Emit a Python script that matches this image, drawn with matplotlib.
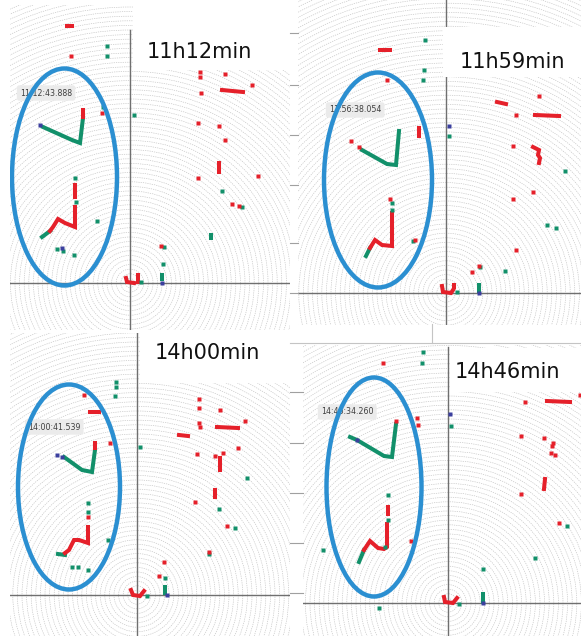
import numpy as np
import matplotlib
matplotlib.use("Agg")
import matplotlib.pyplot as plt
from matplotlib.patches import Ellipse, Circle, Rectangle
from matplotlib.lines import Line2D

W, H = 581, 636
RED = "#e5202a"
GREEN = "#12906a"
BLUE = "#3b3f9e"
RING = "#2b8fd1"

titles = ["11h12min", "11h59min", "14h00min", "14h46min"]
stamps = ["11:12:43.888", "11:56:38.054", "14:00:41.539", "14:46:34.260"]

# ---- data (units: sensor grid units, origin = sensor) ----
# Panel 1 : 11h12min
p1_red_pts = [(-59, 227), (70, 211), (70, 206), (95, 209), (122, 198), (71, 190),
              (-28, 170), (68, 160), (89, 157), (95, 143), (68, 105), (128, 107),
              (102, 79), (109, 77), (31, 37)]
p1_green_pts = [(-23, 237), (-23, 227), (4, 168), (-27, 176), (92, 92), (112, 76),
                (34, 36), (33, 19), (11, 1), (-33, 62), (-73, 34), (-67, 32),
                (-56, 28), (-55, 105), (-54, 81)]
p1_blue_pts = [(32, 0), (-90, 158), (-68, 35)]
p1_red_lines = [[(-63, 257), (-58, 257)], [(92, 193), (113, 191)], [(89, 120), (89, 111)],
                [(-4, 5), (-3, 1), (4, 0)], [(8, 8), (8, 1)],
                [(-47, 166), (-47, 173)], [(-55, 98), (-55, 86)],
                [(-55, 76), (-55, 56), (-65, 60), (-72, 64), (-77, 56), (-80, 52)]]
p1_green_lines = [[(81, 48), (81, 45)], [(32, 8), (32, 4)],
                  [(-87, 156), (-58, 143), (-50, 140), (-47, 165)],
                  [(-80, 52), (-88, 46)]]

# Panel 2 : 11h59min
p2_red_pts = [(-59, 213), (93, 197), (70, 178), (67, 147), (87, 101), (67, 94),
              (70, 43), (26, 21), (33, 27), (-95, 152), (-87, 146), (-56, 94), (-31, 53)]
p2_green_pts = [(-21, 253), (-22, 223), (-23, 213), (3, 157), (119, 122), (101, 68),
                (110, 65), (59, 22), (34, 26), (11, 1), (-54, 90), (-54, 83), (-33, 52)]
p2_blue_pts = [(3, 167), (33, 0)]
p2_red_lines = [[(-66, 243), (-56, 243)], [(-27, 165), (-27, 157)], [(51, 191), (60, 189)],
                [(89, 178), (113, 177)], [(87, 146), (93, 143), (92, 138), (94, 135), (93, 130)],
                [(-4, 7), (-3, 1), (5, 0), (7, 3)], [(8, 8), (8, 6)],
                [(-54, 80), (-54, 47), (-64, 48), (-71, 53), (-76, 45)]]
p2_green_lines = [[(33, 8), (33, 2)],
                  [(-84, 143), (-59, 129), (-50, 128), (-47, 162)],
                  [(-76, 45), (-80, 37)]]

# Panel 3 : 14h00min
p3_red_pts = [(-53, 200), (-27, 152), (62, 196), (62, 187), (83, 185), (62, 172),
              (63, 168), (108, 174), (60, 141), (78, 139), (86, 142), (101, 147),
              (58, 93), (90, 69), (72, 43), (27, 33), (22, 19), (-49, 78)]
p3_green_pts = [(-21, 213), (-21, 208), (-22, 199), (3, 148), (110, 117), (82, 86),
                (98, 67), (28, 17), (-49, 92), (-49, 83), (-65, 28), (-59, 28),
                (-49, 25), (-29, 55), (72, 41), (10, -1)]
p3_blue_pts = [(30, 0), (-80, 140), (-75, 138)]
p3_red_lines = [[(-47, 183), (-38, 183)], [(80, 168), (101, 167)], [(42, 160), (51, 159)],
                [(83, 137), (83, 125)], [(78, 105), (78, 98)],
                [(-6, 5), (-4, 0), (3, -1), (7, 4)], [(-42, 152), (-42, 147)],
                [(-49, 68), (-49, 52), (-58, 55), (-63, 55), (-68, 45), (-72, 42)]]
p3_green_lines = [[(28, 8), (28, 2)],
                  [(-73, 138), (-55, 125), (-45, 123), (-42, 145)],
                  [(-72, 40), (-79, 41)]]

# Panel 4 : 14h46min
p4_red_pts = [(-65, 240), (-31, 185), (-30, 178), (77, 201), (132, 208), (73, 167),
              (96, 165), (105, 160), (104, 157), (103, 150), (107, 148), (73, 109),
              (111, 80), (-37, 62), (-52, 182)]
p4_green_pts = [(-25, 251), (-26, 240), (3, 177), (119, 77), (87, 45), (35, 34),
                (11, -1), (-125, 53), (-69, -5), (-60, 108), (-60, 83), (-63, 56)]
p4_blue_pts = [(2, 189), (35, 0), (-91, 163)]
p4_red_lines = [[(99, 202), (122, 201)], [(97, 124), (96, 114)],
                [(-4, 6), (-3, 1), (5, 0), (9, 5)], [(-60, 96), (-60, 89)],
                [(-61, 79), (-61, 56), (-64, 54), (-70, 55), (-78, 62), (-84, 53)]]
p4_green_lines = [[(35, 9), (35, 1)],
                  [(-98, 166), (-91, 163), (-64, 147), (-56, 146), (-52, 179)],
                  [(-84, 53), (-89, 41)]]

# ---- layout (figure pixels) ----
layouts = [
    dict(rect=(10, 5, 290, 330), origin=(130, 283), vtop=30, white=(133, 0, 290, 70),
         title=(147, 52), stamp=(20, 93), ell=(64.5, 177, 105, 217)),
    dict(rect=(298, 0, 581, 325), origin=(446, 293), vtop=0, white=(443, 27, 581, 77),
         title=(460, 62), stamp=(329, 110), ell=(378, 180, 108, 215)),
    dict(rect=(10, 333, 290, 636), origin=(137, 595), vtop=333, white=(140, 333, 290, 383),
         title=(155, 353), stamp=(28, 427), ell=(69, 487, 102, 205)),
    dict(rect=(303, 345, 581, 636), origin=(448, 603), vtop=347, white=(450, 348, 581, 392),
         title=(455, 372), stamp=(321, 412), ell=(374, 487, 95, 219)),
]
panel_data = [
    (p1_red_pts, p1_green_pts, p1_blue_pts, p1_red_lines, p1_green_lines),
    (p2_red_pts, p2_green_pts, p2_blue_pts, p2_red_lines, p2_green_lines),
    (p3_red_pts, p3_green_pts, p3_blue_pts, p3_red_lines, p3_green_lines),
    (p4_red_pts, p4_green_pts, p4_blue_pts, p4_red_lines, p4_green_lines),
]

fig = plt.figure(figsize=(W / 100, H / 100), dpi=100)
fig.patch.set_facecolor("white")

MS = 3.2
LW = 2.9


def draw_panel(lay, data, title, stamp):
    x0, y0, x1, y1 = lay["rect"]
    ox, oy = lay["origin"]
    ax = fig.add_axes([x0 / W, 1 - y1 / H, (x1 - x0) / W, (y1 - y0) / H])
    ax.set_xlim(x0 - ox, x1 - ox)
    ax.set_ylim(oy - y1, oy - y0)
    ax.axis("off")

    def d(px, py):
        return px - ox, oy - py

    # concentric range rings
    for r in np.arange(4.6, 430, 4.6):
        ax.add_patch(Circle((0, 0), r, fill=False, ec="#c2c2c2", lw=0.45,
                            ls=(0, (2.0, 1.6)), zorder=1))
    # axes cross
    ax.axhline(0, color="#6f6f6f", lw=1.0, zorder=2)
    vt = oy - lay["vtop"]
    ax.plot([0, 0], [oy - y1, vt], color="#6f6f6f", lw=1.0, zorder=2)

    # white label area
    wx0, wy0, wx1, wy1 = lay["white"]
    a, b = d(wx0, wy1)
    ax.add_patch(Rectangle((a, b), wx1 - wx0, wy1 - wy0, fc="white", ec="none", zorder=3))
    tx, ty = d(*lay["title"])
    ax.text(tx, ty, title, fontsize=15, color="#111111", va="center", ha="left", zorder=7,
            family="DejaVu Sans")

    red_pts, green_pts, blue_pts, red_lines, green_lines = data
    for ln in green_lines:
        xs, ys = zip(*ln)
        ax.plot(xs, ys, color=GREEN, lw=LW, solid_capstyle="projecting",
                solid_joinstyle="miter", zorder=4)
    for ln in red_lines:
        xs, ys = zip(*ln)
        ax.plot(xs, ys, color=RED, lw=LW, solid_capstyle="projecting",
                solid_joinstyle="miter", zorder=4)
    for pts, c in ((green_pts, GREEN), (red_pts, RED), (blue_pts, BLUE)):
        xs, ys = zip(*pts)
        ax.plot(xs, ys, ls="none", marker="s", ms=MS, mfc=c, mec="none", zorder=5)

    # timestamp tooltip
    sx, sy = d(*lay["stamp"])
    ax.text(sx, sy, stamp, fontsize=5.7, color="#404040", va="center", ha="left", zorder=6,
            bbox=dict(boxstyle="round,pad=0.4,rounding_size=0.3", fc="#ebebeb", ec="none"))

    # annotation ellipse
    ecx, ecy, ew, eh = lay["ell"]
    cx, cy = d(ecx, ecy)
    ax.add_patch(Ellipse((cx, cy), ew, eh, fill=False, ec=RING, lw=3.2, zorder=8))
    return ax


for lay, data, t, s in zip(layouts, panel_data, titles, stamps):
    draw_panel(lay, data, t, s)


# window frame remnants between the screenshots
def fline(xa, ya, xb, yb, c="#9a9a9a", lw=0.8):
    fig.add_artist(Line2D([xa / W, xb / W], [1 - ya / H, 1 - yb / H], color=c, lw=lw))


for yy in (33, 85, 135, 185, 243, 293):
    fline(290, yy, 298, yy, c="#a0a0a0")
for yy in (392, 443, 493, 543, 593):
    fline(290, yy, 303, yy, c="#a0a0a0")
fline(290, 343, 581, 343, c="#c4c4c4")
fline(432, 324, 432, 343, c="#c4c4c4")

fig.savefig("out.png", dpi=100, facecolor="white")
